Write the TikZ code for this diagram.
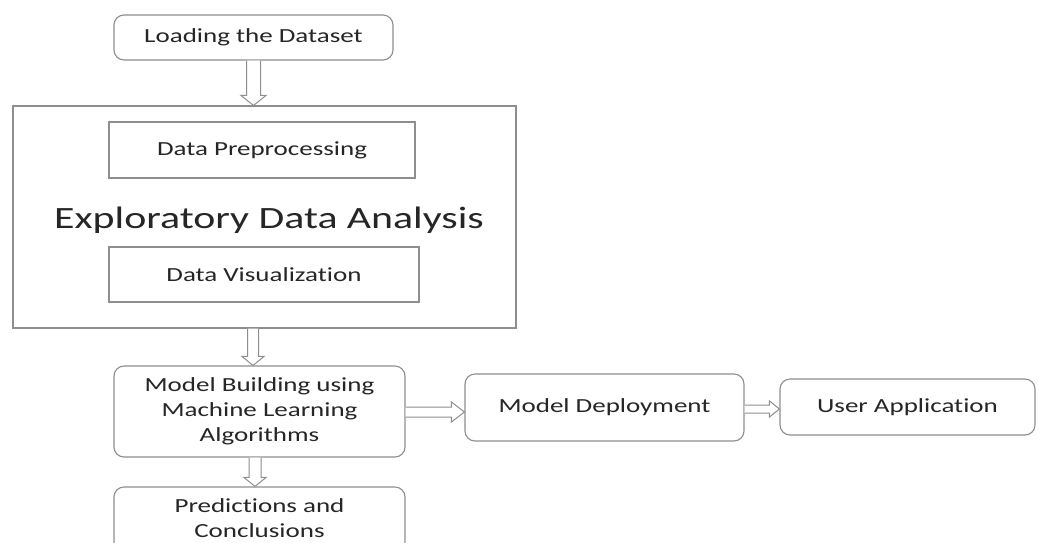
\documentclass[tikz,border=0pt]{standalone}
\usepackage{fontspec}
\setmainfont{Carlito}[Ligatures={NoCommon}]
\usepackage{graphicx}
\usetikzlibrary{calc}
\definecolor{edge}{HTML}{8E8E8E}
\definecolor{ink}{HTML}{262626}
% labels are set slightly wide
\newcommand\wide[1]{\scalebox{1.35}[1]{#1}}
\newcommand\widelines[1]{\scalebox{1.35}[1]{\begin{tabular}{@{}c@{}}#1\end{tabular}}}
% hollow block arrow pointing down: from, to, x shift, shaft half-width, head half-width, head length
\newcommand\blockdown[6]{%
  \draw[blockarrow] let \p1=($(#1.south)+(#3,0)$), \p2=(#2.north) in
    (\x1-#4pt,\y1) -- (\x1-#4pt,\y2+#6pt) -- (\x1-#5pt,\y2+#6pt) -- (\x1,\y2)
    -- (\x1+#5pt,\y2+#6pt) -- (\x1+#4pt,\y2+#6pt) -- (\x1+#4pt,\y1);}
% hollow block arrow pointing right: from, to, y shift, shaft half-width, head half-width, head length
\newcommand\blockright[6]{%
  \draw[blockarrow] let \p1=($(#1.east)+(0,#3)$), \p2=(#2.west) in
    (\x1,\y1+#4pt) -- (\x2-#6pt,\y1+#4pt) -- (\x2-#6pt,\y1+#5pt) -- (\x2,\y1)
    -- (\x2-#6pt,\y1-#5pt) -- (\x2-#6pt,\y1-#4pt) -- (\x1,\y1-#4pt);}
\begin{document}
\begin{tikzpicture}[x=1pt,y=-1pt,
  box/.style={draw=edge, line width=1.1pt, fill=white, text=ink,
    font=\fontsize{20}{25}\selectfont, inner sep=0pt},
  rbox/.style={box, rounded corners=10pt},
  blockarrow/.style={draw=edge, line width=1pt, fill=white, line join=miter}]
\clip (0,0) rectangle (1039,542);
\useasboundingbox (0,0) rectangle (1039,542);

% loading step
\node[rbox, minimum width=279pt, minimum height=45pt] (load) at (253.5,37.5) {\wide{Loading the Dataset}};

% exploratory data analysis block
\node[box, minimum width=503pt, minimum height=222pt] (eda) at (264.5,217) {};
\node[box, minimum width=306pt, minimum height=56pt] (prep) at (262,150) {\wide{Data Preprocessing}};
\node[text=ink, font=\fontsize{31}{36}\selectfont, anchor=base, inner sep=0pt] (title) at (269,228) {\wide{Exploratory Data Analysis}};
\node[box, minimum width=310pt, minimum height=55pt] (vis) at (264,274.5) {\wide{Data Visualization}};

% modelling and output
\node[rbox, minimum width=291pt, minimum height=91pt] (model) at (259.5,411.5) {\widelines{Model Building using\\Machine Learning\\Algorithms}};
\node[rbox, minimum width=291pt, minimum height=65pt] (pred) at (259.5,519.5) {\widelines{Predictions and\\Conclusions}};
\node[rbox, minimum width=279pt, minimum height=67pt] (deploy) at (604.5,407.5) {\wide{Model Deployment}};
\node[rbox, minimum width=255pt, minimum height=56pt] (user) at (907.5,407) {\wide{User Application}};

% connectors
\blockdown{load}{eda}{0}{7}{12.5}{10}
\blockdown{eda}{model}{-11.5}{5.5}{11}{9}
\blockdown{model}{pred}{-4.5}{6}{11}{9}
\blockright{model}{deploy}{0.5}{5}{10}{13}
\blockright{deploy}{user}{1.5}{4}{8}{10}
\end{tikzpicture}
\end{document}
